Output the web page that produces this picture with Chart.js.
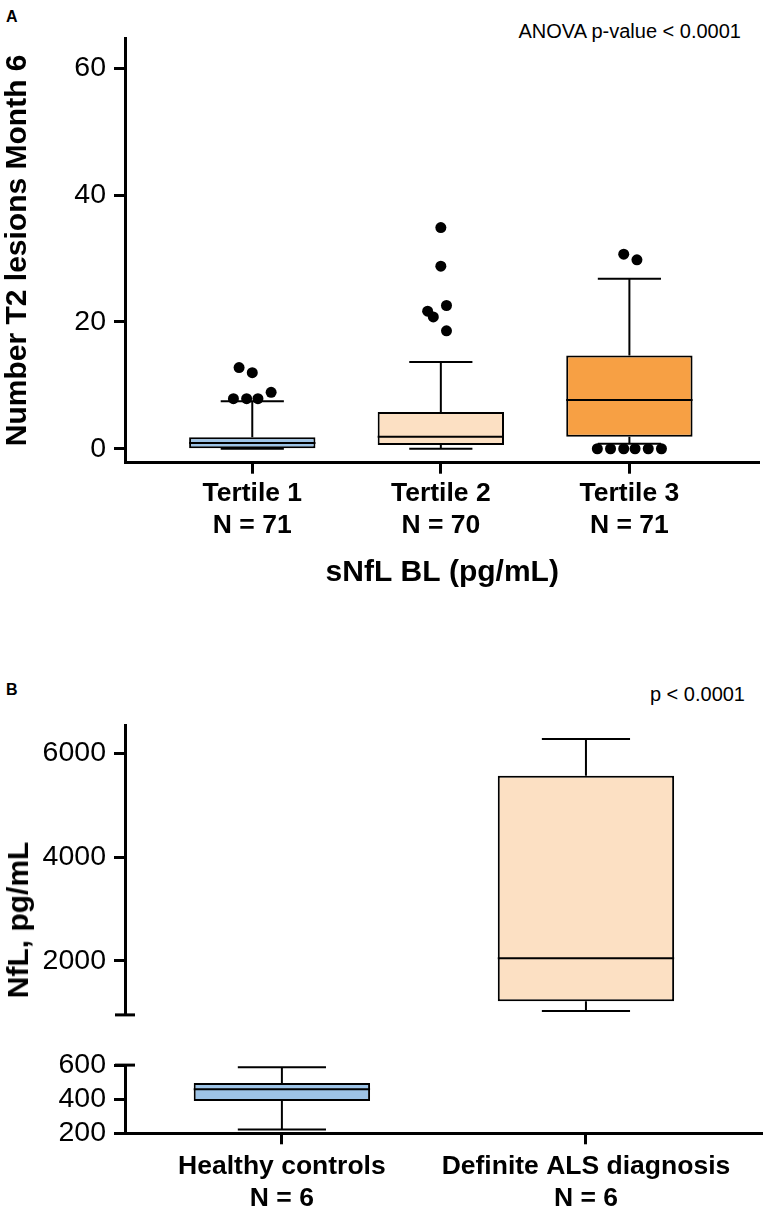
<!DOCTYPE html>
<html>
<head>
<meta charset="utf-8">
<script src="https://cdn.jsdelivr.net/npm/chart.js@4.4.1/dist/chart.umd.min.js"></script>
<style>
  html, body { margin: 0; padding: 0; background: #fff; }
  body { width: 765px; height: 1212px; position: relative; overflow: hidden;
         font-family: "Liberation Sans", Arial, sans-serif; color: #000; }
  .box { position: absolute; left: 0; width: 765px; }
  .txt { position: absolute; white-space: nowrap; line-height: 1; }
</style>
</head>
<body>
<div class="txt" style="left:6px;top:9px;font-size:16px;font-weight:bold;">A</div>
<div class="txt" style="right:24px;top:21px;font-size:20px;">ANOVA p-value &lt; 0.0001</div>
<div class="box" style="top:0;height:600px;"><canvas id="chartA"></canvas></div>

<div class="txt" style="left:6px;top:682px;font-size:16px;font-weight:bold;">B</div>
<div class="txt" style="right:20px;top:684px;font-size:20px;">p &lt; 0.0001</div>
<div class="box" style="top:700px;height:340px;"><canvas id="chartB1"></canvas></div>
<div class="box" style="top:1040px;height:172px;"><canvas id="chartB2"></canvas></div>
<div class="txt" style="left:18px;top:920px;font-size:30px;font-weight:bold;transform:translate(-50%,-50%) rotate(-90deg);">NfL, pg/mL</div>

<script>
// Panel A - new T2 lesions at month 6 by baseline sNfL tertile
const tertileLabels = [['Tertile 1', 'N = 71'], ['Tertile 2', 'N = 70'], ['Tertile 3', 'N = 71']];
const lesionMin = [0, 0, 0.8];
const lesionQ1 = [0, 0.6, 1.9];
const lesionMedian = [0.9, 1.9, 7.7];
const lesionQ3 = [1.8, 5.8, 14.7];
const lesionMax = [7.5, 13.7, 26.8];
// outliers (x = tertile index + small jitter)
const lesionOutX = [-0.07, 0, -0.10, -0.03, 0.03, 0.10,
                    1.0, 1.0, 1.03, 0.93, 0.96, 1.03,
                    1.97, 2.04, 1.83, 1.90, 1.97, 2.03, 2.10, 2.17];
const lesionOutY = [12.8, 12.0, 7.9, 7.9, 7.9, 8.9,
                    34.9, 28.8, 22.6, 21.7, 20.8, 18.6,
                    30.7, 29.8, 0, 0, 0, 0, 0, 0];
const lesionTicks = [0, 20, 40, 60];

// Panel B - NfL in controls vs ALS
const groupLabels = [['Healthy controls', 'N = 6'], ['Definite ALS diagnosis', 'N = 6']];
const nflMin = [223, 1030];
const nflQ1 = [390, 1220];
const nflMedian = [458, 2050];
const nflQ3 = [495, 5570];
const nflMax = [588, 6280];
const nflUpperTicks = [2000, 4000, 6000];
const nflLowerTicks = [200, 400, 600];

const lesionColors = ['#9DC3E6', '#FCE0C3', '#F7A044'];
const groupColors = ['#9DC3E6', '#FCE0C3'];

Chart.defaults.font.family = '"Liberation Sans", Arial, sans-serif';
Chart.defaults.color = '#000';

// whiskers + median drawn over the box bars, using the chart's y scale
function whiskers(stats) {
    return {
        id: 'whiskers',
        afterDatasetDraw(chart, args) {
            if (args.meta.type !== 'bar') return;
            const { ctx, chartArea: a } = chart;
            const y = chart.scales.y;
            ctx.save();
            ctx.beginPath();
            ctx.rect(a.left, a.top, a.right - a.left, a.bottom - a.top);
            ctx.clip();
            ctx.strokeStyle = '#000';
            ctx.lineWidth = 2;
            args.meta.data.forEach((bar, i) => {
                const half = bar.width / 2;
                const cap = half * 0.5;
                const pMin = y.getPixelForValue(stats.min[i]);
                const pQ1 = y.getPixelForValue(stats.q1[i]);
                const pMed = y.getPixelForValue(stats.median[i]);
                const pQ3 = y.getPixelForValue(stats.q3[i]);
                const pMax = y.getPixelForValue(stats.max[i]);
                ctx.beginPath();
                ctx.moveTo(bar.x, pQ3); ctx.lineTo(bar.x, pMax);
                ctx.moveTo(bar.x - cap, pMax); ctx.lineTo(bar.x + cap, pMax);
                ctx.moveTo(bar.x, pQ1); ctx.lineTo(bar.x, pMin);
                ctx.moveTo(bar.x - cap, pMin); ctx.lineTo(bar.x + cap, pMin);
                ctx.moveTo(bar.x - half, pMed); ctx.lineTo(bar.x + half, pMed);
                ctx.stroke();
            });
            ctx.restore();
        }
    };
}

// short horizontal stroke where the y axis is broken
function axisBreak(edge) {
    return {
        id: 'axisBreak',
        afterDraw(chart) {
            const { ctx, chartArea: a } = chart;
            const py = edge === 'bottom' ? a.bottom : a.top;
            ctx.save();
            ctx.strokeStyle = '#000';
            ctx.lineWidth = 3;
            ctx.beginPath();
            ctx.moveTo(a.left - 10, py);
            ctx.lineTo(a.left + 10, py);
            ctx.stroke();
            ctx.restore();
        }
    };
}

const axisLine = { display: true, width: 3, color: '#000' };
const tickMarks = (len) => ({ display: true, offset: false, drawOnChartArea: false, tickLength: len, tickWidth: 3, tickColor: '#000' });

function yScale(min, max, tickValues, title) {
    return {
        min: min,
        max: max,
        afterBuildTicks: s => { s.ticks = tickValues.map(v => ({ value: v })); },
        afterFit: s => { s.width = 125; },
        grid: tickMarks(11),
        border: axisLine,
        ticks: { callback: v => String(v), autoSkip: false, padding: 8, font: { size: 28.5 } },
        title: title ? { display: true, text: title, padding: 0, font: { size: 30, weight: 'bold', lineHeight: 1.2 } } : { display: false }
    };
}

function xScale(min, max, labels, show, height, pad) {
    return {
        type: 'linear',
        display: show,
        offset: false,
        min: min,
        max: max,
        afterBuildTicks: s => { s.ticks = labels.map((_, i) => ({ value: i })); },
        afterFit: s => { if (show) s.height = height; },
        grid: tickMarks(11),
        border: axisLine,
        ticks: { callback: v => labels[v], padding: pad, maxRotation: 0, autoSkip: false,
                 font: { size: 26.5, weight: 'bold', lineHeight: 1.2 } }
    };
}

function boxDatasets(q1, q3, colors, outX, outY, widthPct) {
    const sets = [];
    if (outX) {
        sets.push({
            type: 'scatter',
            data: outX.map((x, i) => ({ x: x, y: outY[i] })),
            pointRadius: 5.5,
            pointHoverRadius: 5.5,
            backgroundColor: '#000',
            borderWidth: 0
        });
    }
    sets.push({
        type: 'bar',
        data: q1.map((v, i) => ({ x: i, y: [v, q3[i]] })),
        backgroundColor: colors,
        borderColor: '#000',
        borderWidth: 2,
        borderSkipped: false,
        barPercentage: widthPct,
        categoryPercentage: 1
    });
    return sets;
}

const baseOptions = {
    responsive: true,
    maintainAspectRatio: false,
    animation: false,
    events: [],
    plugins: { legend: { display: false }, tooltip: { enabled: false } }
};

// Panel A
const xA = xScale(-0.675, 2.69, tertileLabels, true, 137.3, 4);
xA.title = { display: true, text: 'sNfL BL (pg/mL)', padding: { top: 0, bottom: 9 },
             font: { size: 30, weight: 'bold', lineHeight: 1.2 } };
new Chart(document.getElementById('chartA'), {
    type: 'bar',
    data: { datasets: boxDatasets(lesionQ1, lesionQ3, lesionColors, lesionOutX, lesionOutY, 0.67) },
    options: Object.assign({}, baseOptions, {
        layout: { padding: { top: 38, right: 3, bottom: 0, left: 0 } },
        scales: {
            x: xA,
            y: yScale(-2.2, 64.8, lesionTicks, 'Number T2 lesions Month 6')
        }
    }),
    plugins: [whiskers({ min: lesionMin, q1: lesionQ1, median: lesionMedian, q3: lesionQ3, max: lesionMax })]
});

// Panel B, upper segment of the broken axis
const nflStats = { min: nflMin, q1: nflQ1, median: nflMedian, q3: nflQ3, max: nflMax };
new Chart(document.getElementById('chartB1'), {
    type: 'bar',
    data: { datasets: boxDatasets(nflQ1, nflQ3, groupColors, null, null, 0.58) },
    options: Object.assign({}, baseOptions, {
        layout: { padding: { top: 23, right: 3, bottom: 13.3, left: 0 } },
        scales: {
            x: xScale(-0.516, 1.579, groupLabels, false, 0, 0),
            y: yScale(956, 6547, nflUpperTicks, null)
        }
    }),
    plugins: [whiskers(nflStats), axisBreak('bottom')]
});

// Panel B, lower segment
new Chart(document.getElementById('chartB2'), {
    type: 'bar',
    data: { datasets: boxDatasets(nflQ1, nflQ3, groupColors, null, null, 0.58) },
    options: Object.assign({}, baseOptions, {
        layout: { padding: { top: 17.7, right: 3, bottom: 0, left: 0 } },
        scales: {
            x: xScale(-0.516, 1.579, groupLabels, true, 78.7, 6.7),
            y: yScale(200, 600, nflLowerTicks, null)
        }
    }),
    plugins: [whiskers(nflStats), axisBreak('top')]
});
</script>
</body>
</html>
